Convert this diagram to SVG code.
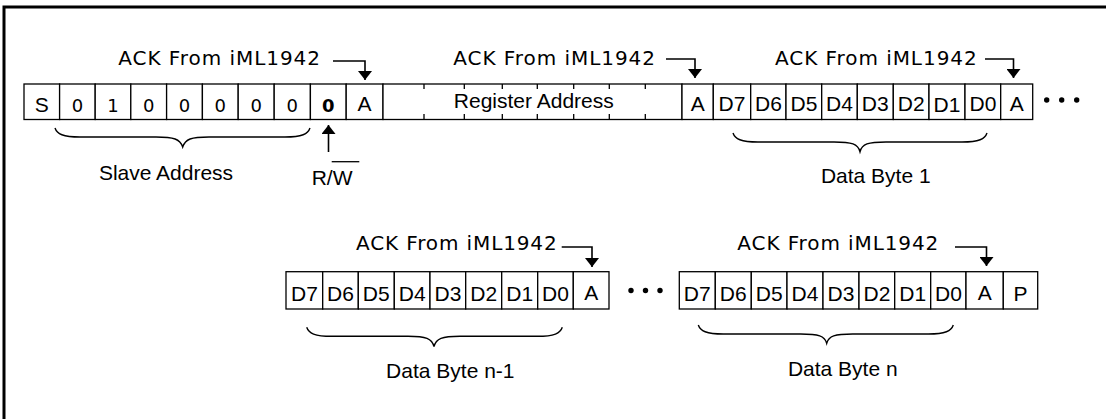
<svg xmlns="http://www.w3.org/2000/svg" width="1106" height="419" viewBox="0 0 1106 419">
<style>
.cell{fill:#fff;stroke:#000;stroke-width:1.3}
.t{font-family:"Liberation Sans",Arial,sans-serif;font-size:21px;text-anchor:middle;fill:#000}
.dg{font-family:"DejaVu Sans",Verdana,sans-serif;font-size:18px;text-anchor:middle;fill:#000}
.ack{font-family:"DejaVu Sans",Verdana,sans-serif;font-size:20px;fill:#000}
.conn{fill:none;stroke:#000;stroke-width:1.6}
.brace{fill:none;stroke:#000;stroke-width:1.4}
.tick{stroke:#000;stroke-width:1.3}
.dot{fill:#000}
</style>
<defs>
<marker id="ah" markerUnits="userSpaceOnUse" viewBox="0 0 9 14" refX="9" refY="7" markerWidth="9" markerHeight="14" orient="auto">
<path d="M0,0 L9,7 L0,14 z" fill="#000"/>
</marker>
</defs>
<rect width="1106" height="419" fill="#fff"/>
<path d="M4 419 V7 H1106" fill="none" stroke="#000" stroke-width="3"/>

<!-- Top row -->
<g id="start">
<rect class="cell" x="24" y="84" width="35.6" height="35.5"/>
<text class="t" x="41.8" y="111.5">S</text>
</g>
<g id="slave-address-bits">
<rect class="cell" x="59.6" y="84" width="35.6" height="35.5"/>
<rect class="cell" x="95.2" y="84" width="35.6" height="35.5"/>
<rect class="cell" x="130.8" y="84" width="35.8" height="35.5"/>
<rect class="cell" x="166.6" y="84" width="35.8" height="35.5"/>
<rect class="cell" x="202.4" y="84" width="35.8" height="35.5"/>
<rect class="cell" x="238.2" y="84" width="36" height="35.5"/>
<rect class="cell" x="274.2" y="84" width="36.2" height="35.5"/>
<text class="dg" x="77.4" y="111.5">0</text>
<text class="dg" x="113" y="111.5">1</text>
<text class="dg" x="148.7" y="111.5">0</text>
<text class="dg" x="184.5" y="111.5">0</text>
<text class="dg" x="220.3" y="111.5">0</text>
<text class="dg" x="256.2" y="111.5">0</text>
<text class="dg" x="292.3" y="111.5">0</text>
</g>
<g id="rw-bit">
<rect class="cell" x="310.4" y="84" width="35.8" height="35.5"/>
<text class="dg" x="328.3" y="111.5" font-weight="bold">0</text>
</g>
<g id="ack-1">
<rect class="cell" x="346.2" y="84" width="36.8" height="35.5"/>
<text class="t" x="364.6" y="110.5">A</text>
</g>
<g id="register-address">
<rect class="cell" x="383" y="84" width="299" height="35.5"/>
<path class="tick" d="M424 84v5M464.3 84v5M502.3 84v5M537.3 84v5M573.7 84v5M609.3 84v5M645.3 84v5M424 119.5v-5.5M464.3 119.5v-5.5M502.3 119.5v-5.5M537.3 119.5v-5.5M573.7 119.5v-5.5M609.3 119.5v-5.5M645.3 119.5v-5.5"/>
<text class="t" x="533.8" y="108.3">Register Address</text>
</g>
<g id="ack-2">
<rect class="cell" x="682" y="84" width="31.3" height="35.5"/>
<text class="t" x="697.7" y="110.5">A</text>
</g>
<g id="data-byte-1">
<rect class="cell" x="713.3" y="84" width="37.4" height="35.5"/>
<rect class="cell" x="750.7" y="84" width="35.3" height="35.5"/>
<rect class="cell" x="786" y="84" width="35.7" height="35.5"/>
<rect class="cell" x="821.7" y="84" width="35.6" height="35.5"/>
<rect class="cell" x="857.3" y="84" width="36" height="35.5"/>
<rect class="cell" x="893.3" y="84" width="35.7" height="35.5"/>
<rect class="cell" x="929" y="84" width="36" height="35.5"/>
<rect class="cell" x="965" y="84" width="35.7" height="35.5"/>
<text class="t" x="732" y="110.5">D7</text>
<text class="t" x="768.4" y="110.5">D6</text>
<text class="t" x="803.9" y="110.5">D5</text>
<text class="t" x="839.5" y="110.5">D4</text>
<text class="t" x="875.3" y="110.5">D3</text>
<text class="t" x="911.2" y="110.5">D2</text>
<text class="t" x="947" y="111.5">D1</text>
<text class="t" x="982.9" y="110.5">D0</text>
</g>
<g id="ack-3">
<rect class="cell" x="1000.7" y="84" width="32" height="35.5"/>
<text class="t" x="1016.7" y="110.5">A</text>
</g>
<g id="more-1">
<circle class="dot" cx="1046.7" cy="100" r="2.7"/>
<circle class="dot" cx="1061.7" cy="100" r="2.7"/>
<circle class="dot" cx="1076.7" cy="100" r="2.7"/>
</g>

<!-- Bottom row: Data Byte n-1 -->
<g id="data-byte-n-1">
<rect class="cell" x="286" y="271.7" width="36.7" height="37.3"/>
<rect class="cell" x="322.7" y="271.7" width="35.6" height="37.3"/>
<rect class="cell" x="358.3" y="271.7" width="36" height="37.3"/>
<rect class="cell" x="394.3" y="271.7" width="35.7" height="37.3"/>
<rect class="cell" x="430" y="271.7" width="35.7" height="37.3"/>
<rect class="cell" x="465.7" y="271.7" width="36" height="37.3"/>
<rect class="cell" x="501.7" y="271.7" width="36" height="37.3"/>
<rect class="cell" x="537.7" y="271.7" width="35.6" height="37.3"/>
<text class="t" x="304.4" y="301">D7</text>
<text class="t" x="340.5" y="301">D6</text>
<text class="t" x="376.3" y="301">D5</text>
<text class="t" x="412.2" y="301">D4</text>
<text class="t" x="447.9" y="301">D3</text>
<text class="t" x="483.7" y="301">D2</text>
<text class="t" x="519.7" y="301">D1</text>
<text class="t" x="555.5" y="301">D0</text>
</g>
<g id="ack-n-1">
<rect class="cell" x="573.3" y="271.7" width="35.7" height="37.3"/>
<text class="t" x="591.2" y="299.5">A</text>
</g>
<g id="more-2">
<circle class="dot" cx="631" cy="290.5" r="2.7"/>
<circle class="dot" cx="645.5" cy="290.5" r="2.7"/>
<circle class="dot" cx="660" cy="290.5" r="2.7"/>
</g>

<!-- Bottom row: Data Byte n -->
<g id="data-byte-n">
<rect class="cell" x="679.3" y="271.7" width="36" height="37.3"/>
<rect class="cell" x="715.3" y="271.7" width="36" height="37.3"/>
<rect class="cell" x="751.3" y="271.7" width="35.7" height="37.3"/>
<rect class="cell" x="787" y="271.7" width="36" height="37.3"/>
<rect class="cell" x="823" y="271.7" width="36" height="37.3"/>
<rect class="cell" x="859" y="271.7" width="35.7" height="37.3"/>
<rect class="cell" x="894.7" y="271.7" width="36" height="37.3"/>
<rect class="cell" x="930.7" y="271.7" width="35.3" height="37.3"/>
<text class="t" x="697.3" y="301">D7</text>
<text class="t" x="733.3" y="301">D6</text>
<text class="t" x="769.2" y="301">D5</text>
<text class="t" x="805" y="301">D4</text>
<text class="t" x="841" y="301">D3</text>
<text class="t" x="876.9" y="301">D2</text>
<text class="t" x="912.7" y="301">D1</text>
<text class="t" x="948.4" y="301">D0</text>
</g>
<g id="ack-n">
<rect class="cell" x="966" y="271.7" width="37.3" height="37.3"/>
<text class="t" x="984.7" y="299.5">A</text>
</g>
<g id="stop">
<rect class="cell" x="1003.3" y="271.7" width="34.4" height="37.3"/>
<text class="t" x="1020.5" y="301">P</text>
</g>

<!-- ACK labels -->
<g id="ack-label-1"><text class="ack" x="118.3" y="65" textLength="201.7">ACK From iML1942</text></g>
<g id="ack-label-2"><text class="ack" x="453.3" y="65" textLength="201.7">ACK From iML1942</text></g>
<g id="ack-label-3"><text class="ack" x="775" y="65" textLength="201.7">ACK From iML1942</text></g>
<g id="ack-label-4"><text class="ack" x="356" y="250" textLength="200.7">ACK From iML1942</text></g>
<g id="ack-label-5"><text class="ack" x="737.3" y="250" textLength="201">ACK From iML1942</text></g>

<!-- R/W label -->
<g id="rw-label">
<text class="t" x="311.7" y="185" style="text-anchor:start">R/W</text>
<line x1="331.7" y1="161.7" x2="359.3" y2="161.7" stroke="#000" stroke-width="1.3"/>
</g>

<!-- Braces and labels -->
<g id="slave-address-brace">
<path class="brace" d="M55 128 C57 134 63 137 80 137 L156 137 C174 137 180 139 182.7 147 C185.4 139 191 137 209 137 L285 137 C302 137 308 134 310 128"/>
<text class="t" x="166" y="180">Slave Address</text>
</g>
<g id="data-byte-1-brace">
<path class="brace" d="M733 133 C735 139 741 142 758 142 L834 142 C852 142 858 144 860 151.7 C862 144 868 142 886 142 L962 142 C979 142 985 139 987 133"/>
<text class="t" x="875.8" y="183.3">Data Byte 1</text>
</g>
<g id="data-byte-n-1-brace">
<path class="brace" d="M306.7 327.3 C308.7 333.3 314.7 336.3 331.7 336.3 L408 336.3 C426 336.3 432 338.3 434 346.7 C436 338.3 442 336.3 460 336.3 L537.3 336.3 C554.3 336.3 560.3 333.3 562.3 327.3"/>
<text class="t" x="450.3" y="378.3">Data Byte n-1</text>
</g>
<g id="data-byte-n-brace">
<path class="brace" d="M698.3 325 C700.3 331 706.3 334 723.3 334 L800.7 334 C818.7 334 824.7 336 826.7 343.3 C828.7 336 834.7 334 852.7 334 L928.3 334 C945.3 334 951.3 331 953.3 325"/>
<text class="t" x="842.8" y="375.7">Data Byte n</text>
</g>

<!-- Connectors -->
<g id="connectors">
<path class="conn" d="M333 61 H365 V80" marker-end="url(#ah)"/>
<path class="conn" d="M666 59 H695 V78" marker-end="url(#ah)"/>
<path class="conn" d="M985 59 H1013.5 V78" marker-end="url(#ah)"/>
<path class="conn" d="M561.7 247 H592 V267" marker-end="url(#ah)"/>
<path class="conn" d="M955 247 H986.5 V266" marker-end="url(#ah)"/>
<path class="conn" d="M328.5 152 V125" marker-end="url(#ah)"/>
</g>
</svg>
